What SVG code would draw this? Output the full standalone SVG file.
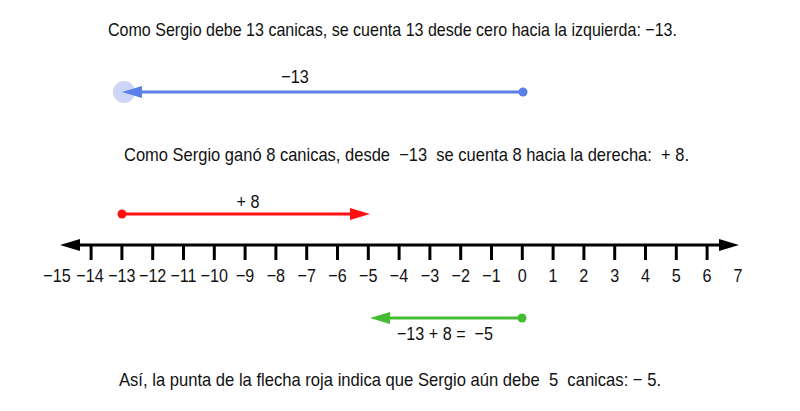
<svg xmlns="http://www.w3.org/2000/svg" width="800" height="411" viewBox="0 0 800 411">
<style>
text{font-family:"Liberation Sans",Arial,sans-serif;fill:#111;white-space:pre;}
.cap{font-size:18.5px;}
.num{font-size:19px;text-anchor:middle;}
.tick{stroke:#000;stroke-width:3;}
</style>
<rect width="800" height="411" fill="#fff"/>
<g id="texts">
<text class="cap" x="108" y="36" textLength="569" lengthAdjust="spacingAndGlyphs">Como Sergio debe 13 canicas, se cuenta 13 desde cero hacia la izquierda: −13.</text>
<text class="cap" x="124" y="161" textLength="565" lengthAdjust="spacingAndGlyphs" xml:space="preserve">Como Sergio ganó 8 canicas, desde  −13  se cuenta 8 hacia la derecha:  + 8.</text>
<text class="cap" x="119" y="386" textLength="542" lengthAdjust="spacingAndGlyphs" xml:space="preserve">Así, la punta de la flecha roja indica que Sergio aún debe  5  canicas: − 5.</text>
</g>
<g id="numberline">
<line x1="74" y1="245" x2="724" y2="245" stroke="#000" stroke-width="3"/>
<polygon points="60,245 80,239 80,251" fill="#000"/>
<polygon points="739,245 719,239 719,251" fill="#000"/>
<g id="ticks" class="tick">
<line x1="91.1" y1="245" x2="91.1" y2="260"/><line x1="121.9" y1="245" x2="121.9" y2="260"/><line x1="152.7" y1="245" x2="152.7" y2="260"/><line x1="183.5" y1="245" x2="183.5" y2="260"/><line x1="214.3" y1="245" x2="214.3" y2="260"/><line x1="245.1" y1="245" x2="245.1" y2="260"/><line x1="275.9" y1="245" x2="275.9" y2="260"/><line x1="306.7" y1="245" x2="306.7" y2="260"/><line x1="337.5" y1="245" x2="337.5" y2="260"/><line x1="368.3" y1="245" x2="368.3" y2="260"/><line x1="399.1" y1="245" x2="399.1" y2="260"/><line x1="429.9" y1="245" x2="429.9" y2="260"/><line x1="460.7" y1="245" x2="460.7" y2="260"/><line x1="491.5" y1="245" x2="491.5" y2="260"/><line x1="522.3" y1="245" x2="522.3" y2="260"/><line x1="553.1" y1="245" x2="553.1" y2="260"/><line x1="583.9" y1="245" x2="583.9" y2="260"/><line x1="614.7" y1="245" x2="614.7" y2="260"/><line x1="645.5" y1="245" x2="645.5" y2="260"/><line x1="676.3" y1="245" x2="676.3" y2="260"/><line x1="707.1" y1="245" x2="707.1" y2="260"/>
</g>
<g id="labels" transform="scale(0.85 1)">
<text class="num" x="67.1" y="282">−15</text><text class="num" x="105.9" y="282">−14</text><text class="num" x="143.4" y="282">−13</text><text class="num" x="179.6" y="282">−12</text><text class="num" x="215.9" y="282">−11</text><text class="num" x="252.1" y="282">−10</text><text class="num" x="288.4" y="282">−9</text><text class="num" x="324.6" y="282">−8</text><text class="num" x="360.8" y="282">−7</text><text class="num" x="397.1" y="282">−6</text><text class="num" x="433.3" y="282">−5</text><text class="num" x="469.5" y="282">−4</text><text class="num" x="505.8" y="282">−3</text><text class="num" x="542.0" y="282">−2</text><text class="num" x="578.2" y="282">−1</text><text class="num" x="614.5" y="282">0</text><text class="num" x="650.7" y="282">1</text><text class="num" x="686.9" y="282">2</text><text class="num" x="723.2" y="282">3</text><text class="num" x="759.4" y="282">4</text><text class="num" x="795.6" y="282">5</text><text class="num" x="831.9" y="282">6</text><text class="num" x="868.2" y="282">7</text>
</g>
</g>
<g id="connectors">
<g id="blue-arrow">
<circle cx="124" cy="92" r="11" fill="#cdd6f6"/>
<line x1="523" y1="92" x2="136" y2="92" stroke="#5a7fe6" stroke-width="3"/>
<polygon points="122,92 142,86 142,98" fill="#5a7fe6"/>
<circle cx="523" cy="92" r="4.5" fill="#5a7fe6"/>
<text class="num" x="347" y="83" transform="scale(0.85 1)">−13</text>
</g>
<g id="red-arrow">
<line x1="122" y1="214" x2="354" y2="214" stroke="#ff1111" stroke-width="3"/>
<polygon points="370,214 350,208 350,220" fill="#ff1111"/>
<circle cx="122" cy="214" r="4.5" fill="#ff1111"/>
<text class="num" x="291.8" y="208" transform="scale(0.85 1)" xml:space="preserve">+ 8</text>
</g>
<g id="green-arrow">
<line x1="522" y1="318" x2="386" y2="318" stroke="#44bb33" stroke-width="3"/>
<polygon points="370,318 390,312 390,324" fill="#44bb33"/>
<circle cx="522" cy="318" r="4.5" fill="#44bb33"/>
<text class="num" x="523.5" y="340" transform="scale(0.85 1)" xml:space="preserve">−13 + 8 =  −5</text>
</g>
</g>
</svg>
